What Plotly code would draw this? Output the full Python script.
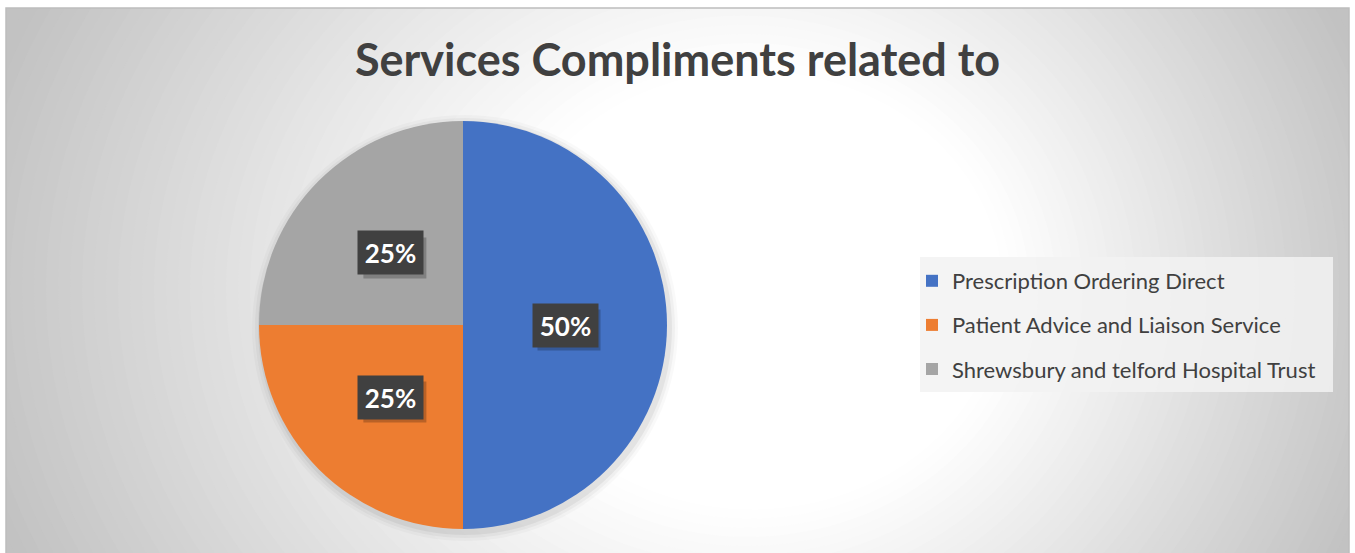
import math
import plotly.graph_objects as go

# ---------------- data ----------------
title_text = "Services Compliments related to"
categories = ["Prescription Ordering Direct",
              "Patient Advice and Liaison Service",
              "Shrewsbury and telford Hospital Trust"]
shares = [50, 25, 25]
colors = ["#4472C4", "#ED7D31", "#A5A5A5"]

W, H = 1355, 553

# pie placement (pixels -> paper)
pie_cx, pie_cy, pie_r = 463, 325, 204
dom_x = [(pie_cx - pie_r) / W, (pie_cx + pie_r) / W]
dom_y = [1 - (pie_cy + pie_r) / H, 1 - (pie_cy - pie_r) / H]

fig = go.Figure()
fig.add_trace(go.Pie(
    labels=categories, values=shares, sort=False, direction="clockwise",
    rotation=0, marker=dict(colors=colors, line=dict(width=0)),
    textinfo="none", hoverinfo="label+percent", showlegend=False,
    domain=dict(x=dom_x, y=dom_y),
))

# legend entries (dummy traces so spacing can be controlled)
for i, (c, col) in enumerate(zip(categories, colors)):
    fig.add_trace(go.Scatter(
        x=[None], y=[None], mode="markers", name=c, legendgroup=f"g{i}",
        marker=dict(symbol="square", size=12, color=col), showlegend=True,
    ))

shapes = []
# radial-ish gradient background
N = 70
for i in range(N):
    t = 1 - i / N
    if t >= 0.35:
        g = int(round(255 - (t - 0.35) / 0.65 * (255 - 194)))
    else:
        g = 255
    cx = 790 - 110 * t
    cy = 290
    rx = 730 * t
    ry = 640 * t
    shapes.append(dict(type="circle", xref="paper", yref="paper",
                       x0=(cx - rx) / W, x1=(cx + rx) / W,
                       y0=1 - (cy + ry) / H, y1=1 - (cy - ry) / H,
                       fillcolor=f"rgb({g},{g},{g})", line=dict(width=0),
                       layer="below"))

# white outside margin + frame
for (x0, x1, y0, y1) in [(0, W, 0, 8), (0, 6, 0, H), (1349, W, 0, H)]:
    shapes.append(dict(type="rect", xref="paper", yref="paper",
                       x0=x0 / W, x1=x1 / W, y0=1 - y1 / H, y1=1 - y0 / H,
                       fillcolor="white", line=dict(width=0), layer="below"))
shapes.append(dict(type="rect", xref="paper", yref="paper",
                   x0=6 / W, x1=1349 / W, y0=-0.01, y1=1 - 8 / H,
                   fillcolor="rgba(0,0,0,0)", line=dict(color="#BDBDBD", width=1.5),
                   layer="below"))

# soft pie shadow
for k, a in [(9, 0.025), (6, 0.035), (3, 0.05)]:
    shapes.append(dict(type="circle", xref="paper", yref="paper",
                       x0=(pie_cx + 2 - pie_r - k) / W, x1=(pie_cx + 2 + pie_r + k) / W,
                       y0=1 - (pie_cy + 3 + pie_r + k) / H, y1=1 - (pie_cy + 3 - pie_r - k) / H,
                       fillcolor=f"rgba(0,0,0,{a})", line=dict(width=0), layer="below"))

# legend background box
shapes.append(dict(type="rect", xref="paper", yref="paper",
                   x0=920 / W, x1=1333 / W, y0=1 - 392 / H, y1=1 - 257 / H,
                   fillcolor="rgba(242,242,242,0.85)", line=dict(width=0), layer="below"))

# data labels computed from the data (box shadow drawn as a shape)
annotations = []
total = sum(shares)
cum = 0
bw, bh = 63, 41
for v in shares:
    mid = (cum + v / 2) / total * 2 * math.pi
    cum += v
    px = pie_cx + 0.5 * pie_r * math.sin(mid)
    py = pie_cy - 0.5 * pie_r * math.cos(mid)
    label = f"{round(v / total * 100)}%"
    shapes.append(dict(type="rect", xref="paper", yref="paper",
                       x0=(px - bw / 2 + 4) / W, x1=(px + bw / 2 + 4) / W,
                       y0=1 - (py + bh / 2 + 5) / H, y1=1 - (py - bh / 2 + 5) / H,
                       fillcolor="rgba(0,0,0,0.22)", line=dict(width=0), layer="above"))
    annotations.append(dict(text=f"<b>{label}</b>", bgcolor="#404040",
                            xref="paper", yref="paper", x=px / W, y=1 - py / H,
                            showarrow=False, width=bw, height=bh,
                            xanchor="center", yanchor="middle",
                            font=dict(family="Lato", size=26, color="white")))

fig.update_layout(
    width=W, height=H, autosize=False,
    margin=dict(l=0, r=0, t=0, b=0),
    paper_bgcolor="rgb(194,194,194)", plot_bgcolor="rgba(0,0,0,0)",
    title=dict(text=f"<b>{title_text}</b>", x=0.5, xanchor="center",
               y=1 - 60 / H, yanchor="middle",
               font=dict(family="Lato", size=45, color="#404040")),
    xaxis=dict(visible=False), yaxis=dict(visible=False),
    shapes=shapes, annotations=annotations,
    legend=dict(x=912 / W, xanchor="left", y=1 - 260 / H, yanchor="top",
                bgcolor="rgba(0,0,0,0)", tracegroupgap=12.5,
                font=dict(family="Lato", size=22, color="#404040")),
)

fig.write_html("out.html")
